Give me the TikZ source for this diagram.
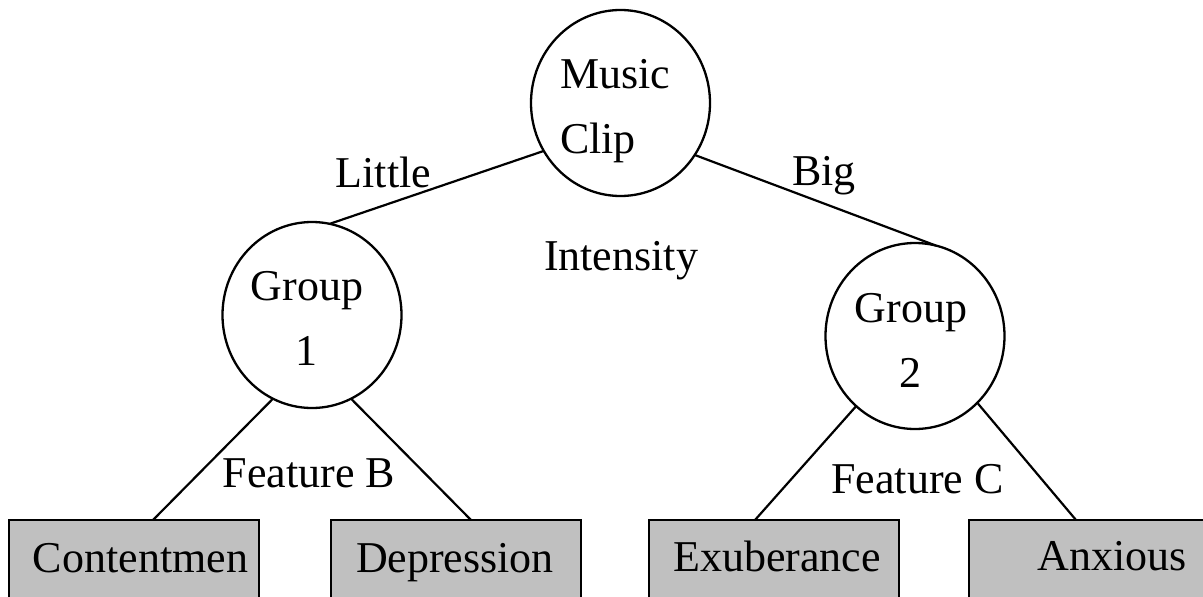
\documentclass[tikz,border=0pt]{standalone}
\usepackage{fontspec}
\setmainfont{Liberation Serif}
\usetikzlibrary{shapes.geometric}
\definecolor{boxgray}{RGB}{192,192,192}
\begin{document}
\begin{tikzpicture}[x=1pt,y=-1pt,
  every node/.style={font=\fontsize{44}{52}\selectfont, inner sep=0pt, outer sep=0pt},
  oval/.style={ellipse, draw, line width=2.3pt, minimum width=179pt, minimum height=186pt},
  leafbox/.style={rectangle, draw, fill=boxgray, line width=2.6pt, minimum width=250pt, minimum height=140pt, anchor=north west},
  link/.style={line width=2.2pt},
  txt/.style={anchor=base}]
\clip (0,0) rectangle (1203,597);
\fill[white] (0,0) rectangle (1203,597);
% tree nodes
\node[oval] (m) at (620.5,103) {};
\node[oval] (g1) at (312,315) {};
\node[oval] (g2) at (915,336) {};
\node[leafbox] (c) at (9,520) {};
\node[leafbox] (d) at (331,520) {};
\node[leafbox] (e) at (649,520) {};
\node[leafbox] (a) at (969,520) {};
% node texts
\node[anchor=base west] (mt1) at (560,88) {Music};
\node[anchor=base west] (mt2) at (560,153) {Clip};
\node[txt] (g1t1) at (307,300) {Group};
\node[txt] (g1t2) at (306,365) {1};
\node[txt] (g2t1) at (911,322) {Group};
\node[txt] (g2t2) at (910,387) {2};
\node[txt] (ct) at (140.5,572) {Contentmen};
\node[txt] (dt) at (455,572) {Depression};
\node[txt] (et) at (777,571) {Exuberance};
\node[txt] (at) at (1112,570) {Anxious};
% connectors
\draw[link] (m.212.8) -- (g1.79.5);
\draw[link] (m.325) -- (g2.77.6);
\draw[link] (g1.245.4) -- ([xshift=19pt]c.north);
\draw[link] (g1.295.5) -- ([xshift=15pt]d.north);
\draw[link] (g2.230.8) -- ([xshift=-19pt]e.north);
\draw[link] (g2.313) -- ([xshift=-18pt]a.north);
% labels
\node[txt] (l1) at (383.5,187) {Little};
\node[txt] (l2) at (824,185) {Big};
\node[txt] (l3) at (621,270) {Intensity};
\node[txt] (l4) at (309,487) {Feature B};
\node[txt] (l5) at (917.5,493) {Feature C};
\end{tikzpicture}
\end{document}
